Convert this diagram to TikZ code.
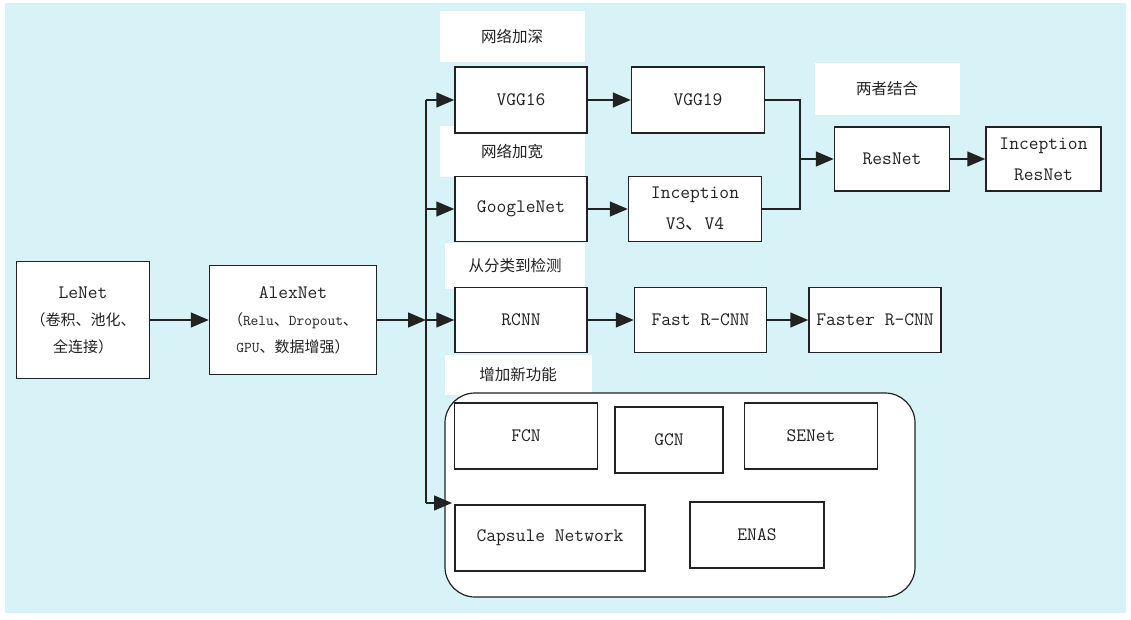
\documentclass[tikz,border=0pt]{standalone}
\usepackage{fontspec}
\setmonofont{Latin Modern Mono}
\newfontfamily\cjk{Noto Sans CJK SC}
\usetikzlibrary{arrows.meta,positioning}
\definecolor{bgcyan}{HTML}{D8F3F7}
\definecolor{ink}{HTML}{222222}
\newcommand{\zh}[1]{{\cjk #1}}
\tikzset{
  net/.style={draw=ink, line width=1.5pt, fill=white, text=ink, align=center,
    inner sep=2pt, minimum width=132pt, minimum height=65pt,
    font=\ttfamily\fontsize{19}{31}\selectfont},
  note/.style={net, font=\ttfamily\fontsize{15}{27}\selectfont},
  tag/.style={fill=white, text=ink, minimum width=145pt, minimum height=51pt,
    font=\cjk\fontsize{15.5}{18}\selectfont},
  flow/.style={draw=ink, line width=1.5pt, -{Triangle[length=18pt,width=15pt]}},
  wire/.style={draw=ink, line width=1.5pt},
}
\begin{document}
\begin{tikzpicture}[x=1pt, y=-1pt, node distance=40pt]
    \useasboundingbox (0,0) rectangle (1131,620);
    \fill[bgcyan] (5,3) rectangle (1126,613);
    % headings
    \node (deep) [tag] at (512,37) {网络加深};
    \node (wide) [tag] at (512,152) {网络加宽};
    \node (both) [tag, minimum height=52pt] at (887,89) {两者结合};
    \node (detect) [tag, minimum width=140pt, minimum height=46pt] at (515,266) {从分类到检测};
    \node (more) [tag, minimum width=147pt, minimum height=40pt] at (518,375) {增加新功能};
    % main line
    \node (LeNet) [note, minimum width=133pt, minimum height=117pt] at (83,320)
        {{\fontsize{19}{27}\selectfont LeNet}\\\zh{（卷积、池化、}\\\zh{全连接）}};
    \node (AlexNet) [note, minimum width=167pt, minimum height=109pt] at (293,320)
        {{\fontsize{19}{27}\selectfont AlexNet}\\\zh{（}Relu\zh{、}Dropout\zh{、}\\GPU\zh{、数据增强）}};
    \coordinate (trunk) at (426,320);
    % branches
    \node (VGG16) [net, minimum height=66pt] at (521,100) {VGG16};
    \node (VGG19) [net, minimum width=133pt, minimum height=66pt, right=43pt of VGG16] {VGG19};
    \node (GoogleNet) [net] at (521,209) {GoogleNet};
    \node (Inception) [net, minimum width=133pt, right=40pt of GoogleNet] {Inception\\V3\zh{、}V4};
    \node (ResNet) [net, minimum width=115pt, minimum height=64pt] at (892,159) {ResNet};
    \node (IncResNet) [net, minimum width=115pt, minimum height=64pt, right=35pt of ResNet] {Inception\\ResNet};
    \node (RCNN) [net] at (521,320) {RCNN};
    \node (FastRCNN) [net, right=46pt of RCNN] {Fast R-CNN};
    \node (FasterRCNN) [net, right=41pt of FastRCNN] {Faster R-CNN};
    % new functions
    \node (extra) [draw=ink, line width=1.2pt, fill=white, rounded corners=30pt,
        minimum width=470pt, minimum height=204pt] at (680,495) {};
    \node (FCN) [net, minimum width=143pt, minimum height=66pt] at (526,436) {FCN};
    \node (GCN) [net, minimum width=108pt, minimum height=66pt] at (669,440) {GCN};
    \node (SENet) [net, minimum width=133pt, minimum height=66pt] at (811,436) {SENet};
    \node (Capsule) [net, minimum width=190pt, minimum height=66pt] at (550,538) {Capsule Network};
    \node (ENAS) [net, minimum width=134pt, minimum height=66pt] at (757,535) {ENAS};
    \coordinate (extrain) at (452,503);
    % connectors
    \draw[flow] (LeNet) -- (AlexNet);
    \draw[flow] (AlexNet) -- (trunk);
    \draw[wire] (trunk |- VGG16.west) -- (trunk |- extrain);
    \draw[flow] (trunk |- VGG16.west) -- (VGG16);
    \draw[flow] (trunk |- GoogleNet.west) -- (GoogleNet);
    \draw[flow] (trunk) -- (RCNN);
    \draw[flow] (trunk |- extrain) -- (extrain);
    \draw[flow] (VGG16) -- (VGG19);
    \draw[flow] (GoogleNet) -- (Inception);
    \coordinate (join) at (800,159);
    \draw[wire] (VGG19.east) -| (join);
    \draw[wire] (Inception.east) -| (join);
    \draw[flow] (join) -- (ResNet);
    \draw[flow] (ResNet) -- (IncResNet);
    \draw[flow] (RCNN) -- (FastRCNN);
    \draw[flow] (FastRCNN) -- (FasterRCNN);
\end{tikzpicture}
\end{document}
